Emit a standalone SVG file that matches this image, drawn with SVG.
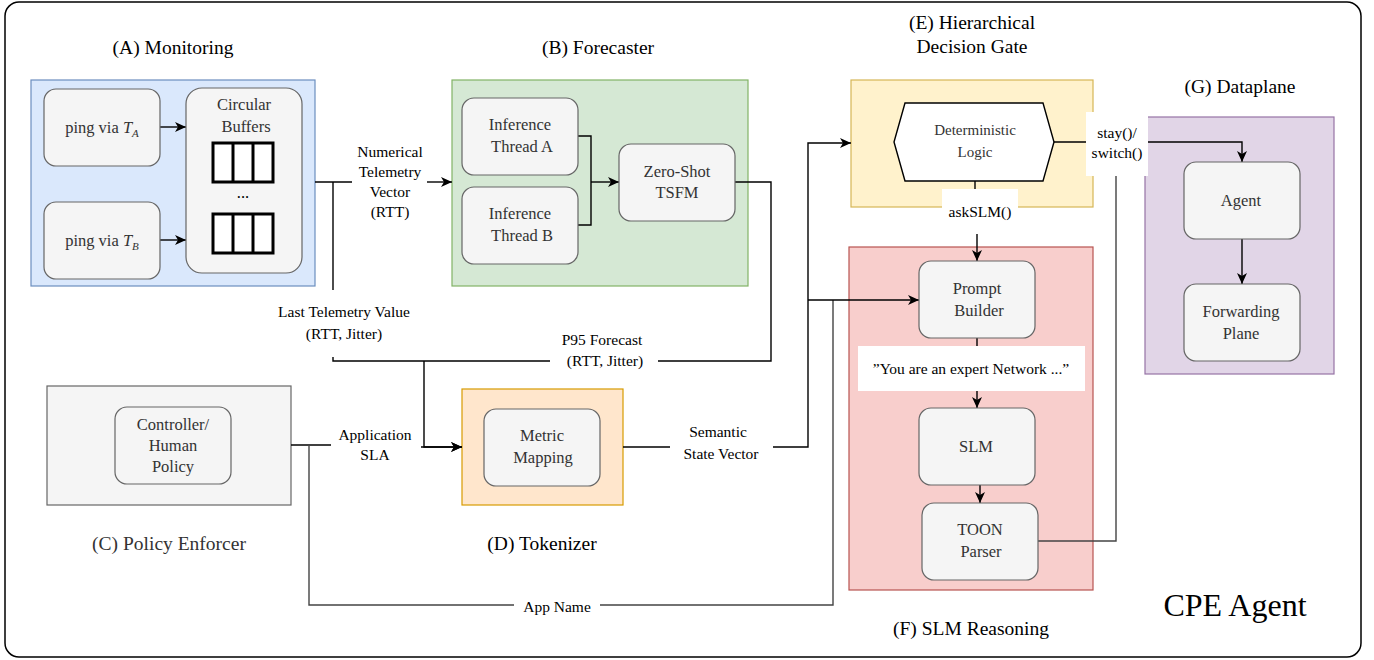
<svg xmlns="http://www.w3.org/2000/svg" width="1374" height="660" viewBox="0 0 1374 660">
<defs>
<marker id="ah" markerWidth="12" markerHeight="10" refX="11" refY="5" orient="auto" markerUnits="userSpaceOnUse">
<path d="M0,0 L11,5 L0,10 L3,5 z" fill="#000"/>
</marker>
<style>
text{font-family:"Liberation Serif","DejaVu Serif",serif;text-anchor:middle}
.sec{font-size:19.5px;fill:#000}
.nt{font-size:16.5px;fill:#333}
.el{font-size:15.5px;fill:#000}
.node{fill:#f5f5f5;stroke:#666;stroke-width:1.2}
.con{fill:none;stroke:#000;stroke-width:1.4}
.gcon{fill:none;stroke:#444;stroke-width:1.4}
.buf{fill:#fff;stroke:#000;stroke-width:3}
.lbg{fill:#fff;stroke:none}
</style>
</defs>
<rect width="1374" height="660" fill="#fff"/>
<rect id="frame" x="5" y="2" width="1356" height="655" rx="14" fill="none" stroke="#000" stroke-width="1.5"/>

<g id="monitoring">
<rect x="31" y="80" width="284" height="206" fill="#dae8fc" stroke="#6c8ebf" stroke-width="1.2"/>
<text class="sec" x="173" y="54">(A) Monitoring</text>
</g>
<g id="forecaster">
<rect x="452" y="80" width="296" height="206" fill="#d5e8d4" stroke="#82b366" stroke-width="1.2"/>
<text class="sec" x="598" y="54">(B) Forecaster</text>
</g>
<g id="policy-enforcer">
<rect x="47" y="386" width="244" height="119" fill="#f5f5f5" stroke="#666" stroke-width="1.2"/>
<text class="sec" x="169" y="550" style="fill:#333">(C) Policy Enforcer</text>
</g>
<g id="tokenizer">
<rect x="462" y="389" width="161" height="116" fill="#ffe6cc" stroke="#d79b00" stroke-width="1.2"/>
<text class="sec" x="542" y="550">(D) Tokenizer</text>
</g>
<g id="decision-gate">
<rect x="851" y="80" width="242" height="127" fill="#fff2cc" stroke="#d6b656" stroke-width="1.2"/>
<text class="sec" x="972" y="29">(E) Hierarchical</text>
<text class="sec" x="972" y="53">Decision Gate</text>
</g>
<g id="slm-reasoning">
<rect x="849" y="247" width="244" height="343" fill="#f8cecc" stroke="#b85450" stroke-width="1.2"/>
<text class="sec" x="971" y="635">(F) SLM Reasoning</text>
</g>
<g id="dataplane">
<rect x="1145" y="117" width="189" height="257" fill="#e1d5e7" stroke="#9673a6" stroke-width="1.2"/>
<text class="sec" x="1240" y="93">(G) Dataplane</text>
</g>

<g id="connectors">
<path class="con" d="M160,127 H186" marker-end="url(#ah)"/>
<path class="con" d="M160,240 H186" marker-end="url(#ah)"/>
<path class="con" d="M315,182 H352"/>
<path class="con" d="M427,182 H452" marker-end="url(#ah)"/>
<path class="con" d="M333,182 V290"/>
<path class="con" d="M333,357 V361 H550"/>
<path class="con" d="M424,361 V447 H462" marker-end="url(#ah)"/>
<path class="con" d="M578,136 H591 V225 H578"/>
<path class="con" d="M591,182 H619" marker-end="url(#ah)"/>
<path class="con" d="M735,182 H771 V361 H658"/>
<path class="con" d="M291,445 H331"/>
<path class="con" d="M421,447 H462" marker-end="url(#ah)"/>
<path class="gcon" d="M309,445 V605 H833 V300"/>
<path class="con" d="M623,447 H670"/>
<path class="con" d="M773,447 H808 V143 H851" marker-end="url(#ah)"/>
<path class="con" d="M808,300 H919" marker-end="url(#ah)"/>
<path class="con" d="M975,181 V189"/>
<path class="con" d="M977,234 V261" marker-end="url(#ah)"/>
<path class="con" d="M1054,142 H1242 V162" marker-end="url(#ah)"/>
<path class="gcon" d="M1116,176 V541 H1038"/>
<path class="con" d="M977,338 V347"/>
<path class="con" d="M977,391 V408" marker-end="url(#ah)"/>
<path class="con" d="M980,485 V503" marker-end="url(#ah)"/>
<path class="con" d="M1242,239 V284" marker-end="url(#ah)"/>
<text class="el" x="390" y="157">Numerical</text>
<text class="el" x="390" y="177">Telemetry</text>
<text class="el" x="390" y="197">Vector</text>
<text class="el" x="390" y="217">(RTT)</text>
<text class="el" x="344" y="317">Last Telemetry Value</text>
<text class="el" x="344" y="339">(RTT, Jitter)</text>
<text class="el" x="602" y="345">P95 Forecast</text>
<text class="el" x="605" y="366">(RTT, Jitter)</text>
<text class="el" x="375" y="440">Application</text>
<text class="el" x="375" y="460">SLA</text>
<text class="el" x="718" y="437">Semantic</text>
<text class="el" x="721" y="459">State Vector</text>
<rect class="lbg" x="514" y="597" width="86" height="17"/>
<text class="el" x="557" y="612">App Name</text>
<rect class="lbg" x="942" y="189" width="76" height="45"/>
<text class="el" x="980" y="217">askSLM()</text>
<rect class="lbg" x="1086" y="112" width="62" height="64"/>
<text class="el" x="1117" y="138">stay()/</text>
<text class="el" x="1117" y="158">switch()</text>
<rect class="lbg" x="858" y="346" width="227" height="45"/>
<text class="el" x="971" y="374">”You are an expert Network ...”</text>
</g>

<g id="ping-a">
<rect class="node" x="44" y="89" width="116" height="77" rx="12"/>
<text class="nt" x="102" y="133">ping via <tspan font-style="italic">T</tspan><tspan font-style="italic" font-size="11" dy="4">A</tspan></text>
</g>
<g id="ping-b">
<rect class="node" x="44" y="202" width="116" height="77" rx="12"/>
<text class="nt" x="102" y="246">ping via <tspan font-style="italic">T</tspan><tspan font-style="italic" font-size="11" dy="4">B</tspan></text>
</g>
<g id="circular-buffers">
<rect class="node" x="186" y="88" width="116" height="185" rx="16"/>
<text class="nt" x="244" y="110">Circular</text>
<text class="nt" x="246" y="132">Buffers</text>
<rect class="buf" x="213" y="143" width="60" height="39"/>
<line class="buf" x1="233" y1="143" x2="233" y2="182"/>
<line class="buf" x1="253" y1="143" x2="253" y2="182"/>
<text class="nt" x="243" y="198" style="fill:#000">...</text>
<rect class="buf" x="213" y="214" width="60" height="39"/>
<line class="buf" x1="233" y1="214" x2="233" y2="253"/>
<line class="buf" x1="253" y1="214" x2="253" y2="253"/>
</g>
<g id="thread-a">
<rect class="node" x="462" y="98" width="116" height="77" rx="12"/>
<text class="nt" x="520" y="130">Inference</text>
<text class="nt" x="522" y="152">Thread A</text>
</g>
<g id="thread-b">
<rect class="node" x="462" y="187" width="116" height="77" rx="12"/>
<text class="nt" x="520" y="219">Inference</text>
<text class="nt" x="522" y="241">Thread B</text>
</g>
<g id="tsfm">
<rect class="node" x="619" y="144" width="116" height="77" rx="12"/>
<text class="nt" x="677" y="177">Zero-Shot</text>
<text class="nt" x="677" y="198">TSFM</text>
</g>
<g id="controller">
<rect class="node" x="115" y="407" width="116" height="77" rx="12"/>
<text class="nt" x="173" y="430">Controller/</text>
<text class="nt" x="173" y="451">Human</text>
<text class="nt" x="173" y="472">Policy</text>
</g>
<g id="metric-mapping">
<rect class="node" x="484" y="409" width="116" height="77" rx="12"/>
<text class="nt" x="542" y="441">Metric</text>
<text class="nt" x="543" y="463">Mapping</text>
</g>
<g id="deterministic-logic">
<polygon points="905,103 1043,103 1054,142 1043,181 905,181 894,142" fill="#fff" stroke="#000" stroke-width="1.4"/>
<text class="nt" x="975" y="135" style="font-size:15px">Deterministic</text>
<text class="nt" x="975" y="157" style="font-size:15px">Logic</text>
</g>
<g id="prompt-builder">
<rect class="node" x="919" y="261" width="116" height="77" rx="12"/>
<text class="nt" x="977" y="294">Prompt</text>
<text class="nt" x="979" y="316">Builder</text>
</g>
<g id="slm">
<rect class="node" x="919" y="408" width="116" height="77" rx="12"/>
<text class="nt" x="976" y="452">SLM</text>
</g>
<g id="toon-parser">
<rect class="node" x="922" y="503" width="116" height="77" rx="12"/>
<text class="nt" x="980" y="535">TOON</text>
<text class="nt" x="981" y="557">Parser</text>
</g>
<g id="agent">
<rect class="node" x="1184" y="162" width="116" height="77" rx="12"/>
<text class="nt" x="1241" y="206">Agent</text>
</g>
<g id="forwarding-plane">
<rect class="node" x="1184" y="284" width="116" height="77" rx="12"/>
<text class="nt" x="1241" y="317">Forwarding</text>
<text class="nt" x="1241" y="339">Plane</text>
</g>
<text x="1235" y="616" style="font-size:32px;fill:#000">CPE Agent</text>
</svg>
